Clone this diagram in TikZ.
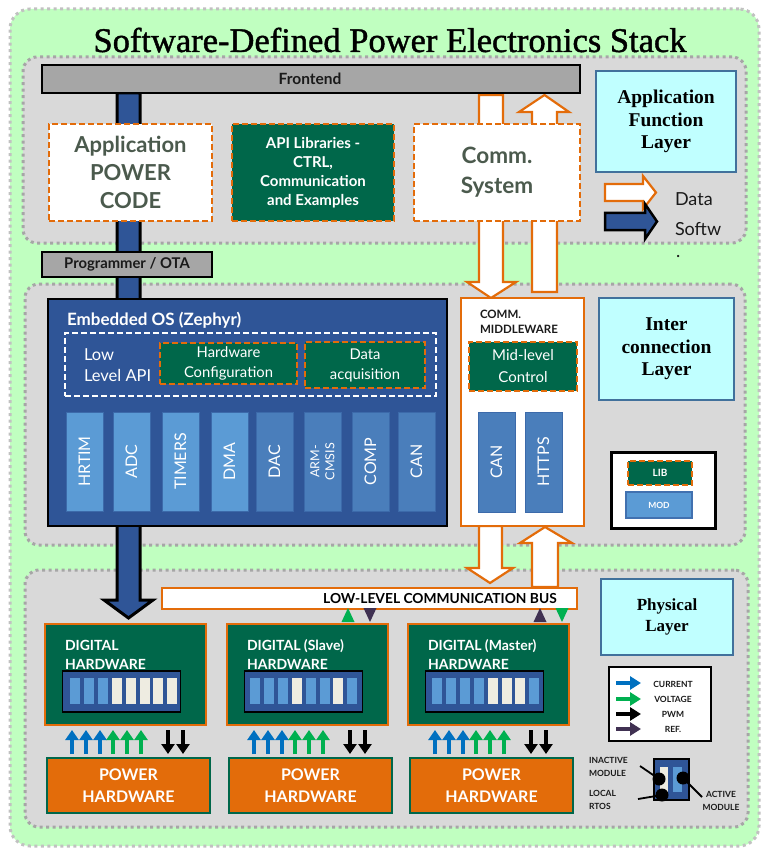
\documentclass[tikz,border=0pt]{standalone}
\usepackage{fontspec}
\setmainfont{Lato}
\newfontfamily\serifF{Liberation Serif}
\newfontfamily\titleF[FakeBold=1.2]{Liberation Serif}
\usetikzlibrary{arrows.meta}
\definecolor{bggreen}{HTML}{C0FFC0}
\definecolor{laygray}{HTML}{D9D9D9}
\definecolor{dotgray}{HTML}{A6A6A6}
\definecolor{dblue}{HTML}{2F5597}
\definecolor{dgreen}{HTML}{00674A}
\definecolor{orng}{HTML}{E36C0A}
\definecolor{lblue}{HTML}{5B9BD5}
\definecolor{mblue}{HTML}{4A7EBB}
\definecolor{cyanL}{HTML}{C0FFFF}
\definecolor{cyanB}{HTML}{41719C}
\definecolor{cream}{HTML}{EEECE1}
\definecolor{curB}{HTML}{0070C0}
\definecolor{volG}{HTML}{00B050}
\definecolor{refP}{HTML}{403152}
\definecolor{txtG}{HTML}{4B5A4D}
\definecolor{txtK}{HTML}{1A1A1A}
\tikzset{
  nw/.style={anchor=north west},
  layer/.style={nw, fill=laygray, draw=dotgray, line width=3pt, dash pattern=on 3pt off 3.5pt, rounded corners=14pt},
  whitebox/.style={nw, fill=white, draw=orng, line width=2pt, dash pattern=on 6pt off 3pt, text=txtG, align=center, font=\bfseries\fontsize{22}{28}\selectfont},
  greenbox/.style={nw, fill=dgreen, draw=orng, line width=2pt, dash pattern=on 6pt off 3pt, text=white, align=center},
  graybar/.style={nw, fill=dotgray, draw=black, line width=1.5pt, text=txtK, font=\bfseries\fontsize{15}{18}\selectfont},
  legendbox/.style={nw, fill=cyanL, draw=cyanB, line width=2pt, align=center, font=\serifF\bfseries\fontsize{19.5}{22.5}\selectfont},
  vbar/.style={rotate=90, minimum width=99pt, minimum height=37pt, draw=dblue!70!lblue, line width=1pt, text=white, font=\fontsize{16}{18}\selectfont},
  dhbox/.style={nw, fill=dgreen, draw=orng, line width=2pt, minimum width=161pt, minimum height=101pt},
  strip/.style={nw, fill=dblue, draw=black, line width=1.5pt, minimum width=118pt, minimum height=41pt},
  chip/.style={nw, minimum width=10pt, minimum height=26pt},
  phbox/.style={nw, fill=orng, draw=dgreen, line width=2.5pt, minimum width=163pt, minimum height=55pt, text=white, align=center, font=\bfseries\fontsize{16}{22}\selectfont},
  blockW/.style={fill=white, draw=orng, line width=2.2pt},
  blockB/.style={fill=dblue, draw=black, line width=3pt},
  sig/.style={line width=3.5pt, -{Triangle[width=13pt,length=10pt]}},
  lsig/.style={line width=4pt, -{Triangle[width=13pt,length=11pt]}},
  small/.style={font=\bfseries\fontsize{8.5}{12.5}\selectfont, text=txtK},
}
\begin{document}
\begin{tikzpicture}[x=1pt,y=-1pt, every node/.style={inner sep=0pt, outer sep=0pt}]
\useasboundingbox (0,0) rectangle (765,850);
\fill[white] (0,0) rectangle (765,850);
% background and layers
\node[nw, fill=bggreen, draw=dotgray!70, line width=3pt, dash pattern=on 3pt off 3.5pt, rounded corners=20pt, minimum width=749pt, minimum height=837pt] (bg) at (10,9) {};
\node[font=\titleF\fontsize{34.5}{40}\selectfont, text=black] (title) at (390,40) {Software-Defined Power Electronics Stack};
\node[layer, minimum width=723pt, minimum height=186pt] (L1) at (23,57) {};
\node[layer, minimum width=720pt, minimum height=261pt] (L2) at (25,284) {};
\node[layer, minimum width=723pt, minimum height=257pt] (L3) at (25,570) {};

% big block arrows
\draw[blockB, line join=miter] (117,93) -- (140,93) -- (140,600) -- (153,600) -- (128.5,618) -- (104,600) -- (117,600) -- cycle;
\draw[blockW] (479,95) -- (503,95) -- (503,282) -- (516,282) -- (491,298) -- (467,282) -- (479,282) -- cycle;
\draw[blockW] (532,292) -- (557,292) -- (557,112) -- (569,112) -- (544.5,95) -- (519,112) -- (532,112) -- cycle;
\draw[blockW] (479,526) -- (502,526) -- (502,568) -- (513,568) -- (490,583) -- (467,568) -- (479,568) -- cycle;
\draw[blockW] (532,587) -- (558,587) -- (558,543) -- (572,543) -- (545,527) -- (520,543) -- (532,543) -- cycle;

% layer 1
\node[graybar, minimum width=538pt, minimum height=28pt] (front) at (42,65) {};
\node[font=\bfseries\fontsize{15.5}{18}\selectfont, text=txtK] (frontT) at (310,79) {Frontend};
\node[whitebox, minimum width=163pt, minimum height=97pt] (app) at (49,124) {Application\\POWER\\CODE};
\node[greenbox, minimum width=162pt, minimum height=97pt, font=\bfseries\fontsize{15}{19}\selectfont] (api) at (232,124) {API Libraries -\\CTRL,\\Communication\\and Examples};
\node[whitebox, minimum width=166pt, minimum height=97pt, font=\bfseries\fontsize{22.5}{30}\selectfont] (comm) at (414,124) {Comm.\\System};
\node[legendbox, minimum width=140pt, minimum height=101pt] (afl) at (596,71) {Application\\Function\\Layer};
\draw[blockW] (605,184) -- (643,184) -- (643,176) -- (656,192.5) -- (643,209) -- (643,201) -- (605,201) -- cycle;
\draw[blockB, line width=2.5pt] (605,213) -- (645,213) -- (645,204) -- (657,221.5) -- (645,239) -- (645,230) -- (605,230) -- cycle;
\node[anchor=west, font=\fontsize{18}{20}\selectfont, text=txtK] (dataT) at (675,199) {Data};
\node[anchor=west, font=\fontsize{18}{20}\selectfont, text=txtK] (softT) at (675,229) {Softw};
\node[anchor=west, font=\fontsize{18}{20}\selectfont, text=txtK] (dotT) at (676,257) {.};

\node[graybar, minimum width=170pt, minimum height=25pt, font=\bfseries\fontsize{14.8}{16}\selectfont] (prog) at (42,252) {Programmer / OTA};

% layer 2
\node[nw, fill=dblue, draw=black, line width=2pt, minimum width=399pt, minimum height=227pt] (eos) at (48,299) {};
\node[anchor=west, text=white, font=\bfseries\fontsize{17}{18}\selectfont] (eosT) at (67,320) {Embedded OS (Zephyr)};
\node[nw, draw=white, line width=2pt, dash pattern=on 6pt off 3pt, minimum width=371pt, minimum height=63pt] (lapi) at (65,333) {};
\node[anchor=west, align=left, text=white, font=\fontsize{16.5}{21}\selectfont] (lapiT) at (84,365) {Low\\Level API};
\node[greenbox, minimum width=137pt, minimum height=41pt, font=\fontsize{14.8}{20}\selectfont] (hwc) at (160,343) {Hardware\\Configuration};
\node[greenbox, minimum width=120pt, minimum height=46pt, font=\fontsize{14.8}{20}\selectfont] (dacq) at (305,342) {Data\\acquisition};
\node[vbar, fill=lblue] (hrtim) at (84.5,461.5) {HRTIM};
\node[vbar, fill=lblue] (adc) at (131.5,461.5) {ADC};
\node[vbar, fill=lblue] (tim) at (180.5,461.5) {TIMERS};
\node[vbar, fill=lblue] (dma) at (229.5,461.5) {DMA};
\node[vbar, fill=mblue] (dac) at (274.5,461.5) {DAC};
\node[vbar, fill=mblue, align=center, font=\fontsize{12.5}{15}\selectfont] (arm) at (322.5,461.5) {ARM-\\CMSIS};
\node[vbar, fill=mblue] (comp) at (370.5,461.5) {COMP};
\node[vbar, fill=mblue] (can1) at (416.5,461.5) {CAN};

\node[nw, fill=white, draw=orng, line width=2pt, minimum width=123pt, minimum height=228pt] (mw) at (461,298) {};
\node[anchor=north west, align=left, text=txtK, font=\bfseries\fontsize{11.5}{15.5}\selectfont] (mwT) at (480,310) {COMM.\\MIDDLEWARE};
\node[greenbox, minimum width=108pt, minimum height=49pt, font=\fontsize{15}{22}\selectfont] (mlc) at (469,342) {Mid-level\\Control};
\node[vbar, fill=mblue, minimum width=100pt] (can2) at (496.5,462) {CAN};
\node[vbar, fill=mblue, minimum width=100pt] (https) at (543.5,462) {HTTPS};
\node[legendbox, minimum width=135pt, minimum height=102pt] (icl) at (599,298) {Inter\\connection\\Layer};
\node[nw, fill=white, draw=black, line width=3pt, minimum width=104pt, minimum height=76pt] (lm) at (611,452) {};
\node[greenbox, minimum width=64pt, minimum height=24pt, font=\bfseries\fontsize{10}{12}\selectfont] (lib) at (628,461) {LIB};
\node[nw, fill=lblue, draw=dblue!60!lblue, line width=1.5pt, minimum width=66pt, minimum height=26pt, text=white, font=\bfseries\fontsize{8.5}{10}\selectfont] (mod) at (626,492) {MOD};

% layer 3
\node[nw, fill=white, draw=orng, line width=2pt, minimum width=415pt, minimum height=21pt] (bus) at (162,588) {};
\node[font=\bfseries\fontsize{13.8}{15}\selectfont, text=black] (busT) at (440,598.5) {LOW-LEVEL COMMUNICATION BUS};
\fill[volG] (341.5,622) -- (348,608) -- (354.5,622) -- cycle;
\fill[refP] (363.5,608) -- (370,622) -- (376.5,608) -- cycle;
\fill[refP] (533.5,622) -- (540,608) -- (546.5,622) -- cycle;
\fill[volG] (555.5,608) -- (562,622) -- (568.5,608) -- cycle;

\foreach \L/\n/\lab in {45/1/{DIGITAL}, 227/2/{DIGITAL (Slave)}, 408/3/{DIGITAL (Master)}} {
  \node[dhbox] (dh\n) at (\L,624) {};
  \node[anchor=west, align=left, text=white, font=\bfseries\fontsize{14}{19}\selectfont] (dht\n) at (\L+20,654.5) {\lab\\HARDWARE};
  \node[strip] (st\n) at (\L+17.5,671) {};
  \node[phbox] (ph\n) at (\L+2,758) {POWER\\HARDWARE};
  \foreach \dx in {27,41,55} \draw[sig, curB] (\L+\dx,754) -- (\L+\dx,730);
  \foreach \dx in {68,82,96} \draw[sig, volG] (\L+\dx,754) -- (\L+\dx,730);
  \foreach \dx in {123,138} \draw[sig, black] (\L+\dx,730) -- (\L+\dx,754);
}
\foreach \i/\c in {0/lblue,1/lblue,2/lblue,3/cream,4/cream,5/cream,6/cream,7/cream}
  \node[chip, fill=\c] (c1\i) at (70+13.9*\i,678) {};
\foreach \i/\c in {0/lblue,1/lblue,2/lblue,3/cream,4/lblue,5/lblue,6/cream,7/lblue}
  \node[chip, fill=\c] (c2\i) at (250+13.9*\i,678) {};
\foreach \i/\c in {0/lblue,1/lblue,2/lblue,3/lblue,4/cream,5/cream,6/cream,7/lblue}
  \node[chip, fill=\c] (c3\i) at (432+13.9*\i,678) {};

\node[legendbox, minimum width=132pt, minimum height=76pt, font=\serifF\bfseries\fontsize{17}{20.5}\selectfont] (phys) at (601,579) {Physical\\Layer};
\node[nw, fill=white, draw=black, line width=2pt, minimum width=102pt, minimum height=74pt] (sl) at (609,667) {};
\draw[lsig, curB] (616,683) -- (641,683);
\draw[lsig, volG] (616,699) -- (641,699);
\draw[lsig, black] (616,714) -- (641,714);
\draw[lsig, refP] (616,729) -- (641,729);
\node[small] (lc) at (673,684) {CURRENT};
\node[small] (lv) at (673,699) {VOLTAGE};
\node[small] (lp) at (673,714) {PWM};
\node[small] (lr) at (673,729) {REF.};

\node[nw, fill=dblue, draw=black, line width=1.5pt, minimum width=35pt, minimum height=41pt] (mi) at (654,759) {};
\node[nw, fill=cream, minimum width=8pt, minimum height=25pt] (mi1) at (660,767) {};
\node[nw, fill=lblue, minimum width=9pt, minimum height=25pt] (mi2) at (673,767) {};
\node[anchor=west, align=left, small] (inT) at (589,767) {INACTIVE\\MODULE};
\node[anchor=west, align=left, small] (rtT) at (589,800) {LOCAL\\RTOS};
\node[align=center, small] (acT) at (721,801) {ACTIVE\\MODULE};
\fill[black] (659,779) circle (6.5pt) coordinate (d1);
\fill[black] (662,795) circle (6.5pt) coordinate (d2);
\fill[black] (683,778) circle (6.5pt) coordinate (d3);
\draw[line width=1.8pt] (640,766) -- (d1);
\draw[line width=1.8pt] (638,799) -- (d2);
\draw[line width=1.8pt] (d3) -- (702,797);
\end{tikzpicture}
\end{document}
